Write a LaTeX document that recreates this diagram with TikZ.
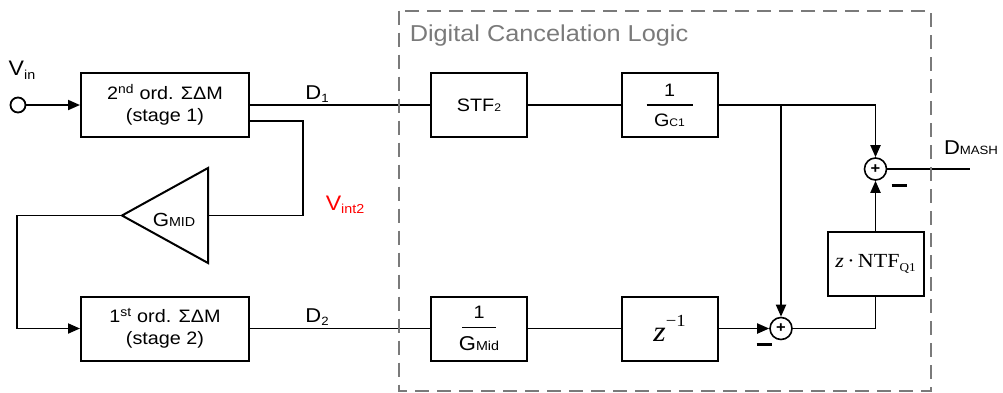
\documentclass[tikz,border=0pt]{standalone}
\usepackage{fontspec}
\setmainfont{Liberation Sans}[FakeStretch=1.1]
\newfontfamily\tms{Liberation Serif}[FakeStretch=1.1]
\usetikzlibrary{arrows.meta}
\newcommand\fsz[1]{\fontsize{#1}{#1}\selectfont}
\newcommand\lo[3]{\raisebox{-#1}{\fsz{#2}#3}}
\newcommand\sm[2]{{\fsz{#1}#2}}
\newcommand\frc[3]{\shortstack{#1\\[5pt]\rule{#3}{1.4pt}\\[5pt]#2}}
\definecolor{dashgray}{HTML}{7A7A7A}
\definecolor{vred}{HTML}{FF0000}
\begin{document}
\begin{tikzpicture}[x=1pt,y=-1pt,
 font=\fsz{18},
 blk/.style={draw, line width=2pt, minimum width=96pt, minimum height=64pt, inner sep=0pt, align=center, font=\fontsize{18}{22}\selectfont},
 wideblk/.style={blk, minimum width=168pt},
 sumnode/.style={circle, draw, line width=1.6pt, minimum size=22pt, inner sep=0pt, font=\fsz{15}\bfseries},
 wire/.style={line width=1.9pt},
 arr/.style={wire, -{Triangle[length=12pt,width=10pt]}},
 lbl/.style={inner sep=0pt},
 minusbar/.style={inner sep=0pt}
]
\useasboundingbox (0,0) rectangle (1003,392);

% left part
\node[circle, draw, line width=1.8pt, minimum size=15pt, inner sep=0pt] (vin) at (18,105) {};
\node[lbl] (vinl) at (22,70) {\fsz{21}V\lo{4pt}{13}{in}};
\node[wideblk] (s1) at (165,105) {2\textsuperscript{nd} ord. ΣΔM\\(stage 1)};
\node[wideblk] (s2) at (165,328.5) {1\textsuperscript{st} ord. ΣΔM\\(stage 2)};

\coordinate (gtip) at (122,215.5);
\coordinate (gin) at (208,215.5);
\coordinate (gtop) at (208,168);
\coordinate (gbot) at (208,263);
\draw[line width=2pt, line join=miter] (gtop) -- (gbot) -- (gtip) -- cycle;
\node[lbl] (gml) at (174,220) {\fsz{19}G\sm{13}{MID}};

\node[lbl, text=vred] (vint) at (345,205) {\fsz{21}V\lo{3pt}{13}{int2}};
\node[lbl] (d1l) at (317,94) {\fsz{20}D\lo{3pt}{12}{1}};
\node[lbl] (d2l) at (317,317) {\fsz{20}D\lo{3pt}{12}{2}};

% digital cancelation logic
\node[blk] (stf) at (479,105) {STF\sm{11}{2}};
\node[blk] (gc1) at (669.5,105) {\frc{1}{G\sm{11}{C1}}{46pt}};
\node[blk] (gmd) at (479,328.5) {\frc{1}{{\fsz{20}G}\sm{13}{Mid}}{34pt}};
\node[blk] (zd) at (669.5,328.5) {{\tms\fsz{29}\itshape z}\raisebox{15pt}{\tms\fsz{17}−1}};
\node[blk] (ntf) at (875.5,263.5) {\tms\fsz{20}\textit{z}\,·\,NTF\lo{4pt}{12}{Q1}};

\node[sumnode] (st) at (875.5,169) {+};
\node[sumnode] (sb) at (781,328.5) {+};
\node[minusbar] (mt) at (899,185) {\rule{15pt}{3pt}};
\node[minusbar] (mb) at (764,344) {\rule{15pt}{3pt}};

\node[lbl] (dm) at (971,148) {\fsz{20}D\sm{12}{MASH}};
\node[lbl, text=dashgray] (title) at (549,36) {\fsz{23}Digital Cancelation Logic};

\coordinate (vk1) at (303,121);
\coordinate (vk2) at (303,215.5);
\coordinate (lc1) at (17,215.5);
\coordinate (lc2) at (17,328.5);
\coordinate (out) at (970,169);

% connectors
\draw[arr] (vin) -- (s1);
\draw[wire] (s1.east) -- (stf.west);
\draw[wire] ([yshift=-16pt]s1.east) -- (vk1) -- (vk2) -- (gin);
\draw[arr] (gtip) -- (lc1) -- (lc2) -- (s2.west);
\draw[wire] (s2.east) -- (gmd.west);
\draw[wire] (stf) -- (gc1);
\draw[wire] (gmd) -- (zd);
\draw[arr] (gc1.east) -| (st.north);
\draw[arr] (sb.north |- gc1.east) -- (sb.north);
\draw[arr] (zd.east) -- (sb.west);
\draw[wire] (sb.east) -| (ntf.south);
\draw[arr] (ntf.north) -- (st.south);
\draw[wire] (st.east) -- (out);

% dashed frame
\draw[dashgray, line width=2pt, dash pattern=on 14pt off 8pt] (399,10.5) rectangle (931,390.5);
\end{tikzpicture}
\end{document}
